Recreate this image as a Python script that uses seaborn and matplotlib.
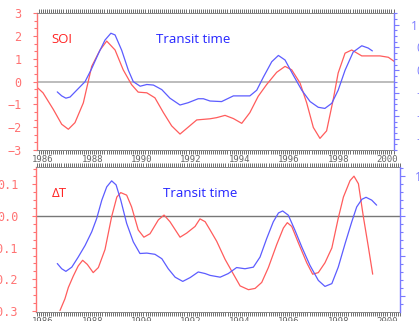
import numpy as np
import pandas as pd
import matplotlib
matplotlib.use("Agg")
import matplotlib.pyplot as plt
from matplotlib.ticker import FixedLocator, MultipleLocator, FuncFormatter
import seaborn as sns

# ---------------- data ----------------
soi_year = [1985.74, 1986.0, 1986.42, 1986.76, 1987.03, 1987.30, 1987.64, 1987.98, 1988.32, 1988.59,
            1988.93, 1989.26, 1989.6, 1989.87, 1990.22, 1990.55, 1990.89, 1991.23, 1991.57, 1991.9,
            1992.25, 1992.79, 1993.06, 1993.4, 1993.74, 1994.08, 1994.41, 1994.75, 1995.09, 1995.5,
            1995.84, 1996.11, 1996.45, 1996.72, 1996.99, 1997.26, 1997.53, 1997.8, 1998.0, 1998.28,
            1998.55, 1998.96, 1999.29, 1999.7, 2000.04, 2000.29]
soi_val = [-0.23, -0.49, -1.22, -1.87, -2.09, -1.8, -0.93, 0.67, 1.39, 1.78,
           1.39, 0.52, -0.13, -0.46, -0.49, -0.71, -1.35, -1.94, -2.3, -2.0,
           -1.68, -1.63, -1.58, -1.48, -1.62, -1.83, -1.36, -0.64, -0.13, 0.41,
           0.67, 0.52, -0.06, -0.93, -2.01, -2.49, -2.16, -0.78, 0.38, 1.25,
           1.39, 1.13, 1.13, 1.13, 1.07, 0.88]

tt1_year = [1986.58, 1986.76, 1986.93, 1987.1, 1987.37, 1987.71, 1987.98, 1988.25, 1988.52, 1988.76,
            1988.93, 1989.2, 1989.47, 1989.67, 1989.95, 1990.22, 1990.49, 1990.83, 1991.16, 1991.57,
            1991.9, 1992.31, 1992.52, 1992.79, 1993.26, 1993.74, 1994.08, 1994.41, 1994.69, 1994.96,
            1995.3, 1995.57, 1995.84, 1996.18, 1996.52, 1996.86, 1997.19, 1997.46, 1997.74, 1998.0,
            1998.28, 1998.61, 1998.96, 1999.22, 1999.39]
tt1_val = [-0.18, -0.25, -0.29, -0.27, -0.15, 0.0, 0.23, 0.49, 0.73, 0.85,
           0.82, 0.55, 0.2, 0.0, -0.08, -0.05, -0.06, -0.14, -0.29, -0.41,
           -0.37, -0.30, -0.30, -0.34, -0.35, -0.25, -0.25, -0.25, -0.15, 0.08,
           0.35, 0.46, 0.38, 0.11, -0.15, -0.35, -0.45, -0.47, -0.38, -0.15,
           0.2, 0.52, 0.63, 0.59, 0.54]

dt_year = [1986.69, 1986.89, 1987.03, 1987.23, 1987.43, 1987.61, 1987.8, 1988.04, 1988.25, 1988.52,
           1988.79, 1989.0, 1989.16, 1989.4, 1989.6, 1989.87, 1990.1, 1990.35, 1990.69, 1990.92,
           1991.16, 1991.57, 1991.84, 1992.18, 1992.38, 1992.59, 1992.79, 1993.06, 1993.4, 1993.74,
           1994.01, 1994.35, 1994.62, 1994.89, 1995.16, 1995.5, 1995.77, 1995.93, 1996.11, 1996.38,
           1996.72, 1996.96, 1997.19, 1997.46, 1997.74, 1998.0, 1998.21, 1998.48, 1998.64, 1998.82,
           1999.02, 1999.22, 1999.4]
dt_val = [-0.299, -0.262, -0.226, -0.19, -0.158, -0.14, -0.153, -0.179, -0.163, -0.106,
          -0.002, 0.06, 0.074, 0.066, 0.029, -0.044, -0.067, -0.056, -0.012, 0.003,
          -0.018, -0.067, -0.054, -0.033, -0.009, -0.018, -0.044, -0.08, -0.137, -0.184,
          -0.221, -0.233, -0.229, -0.21, -0.163, -0.09, -0.038, -0.021, -0.033, -0.085,
          -0.148, -0.184, -0.179, -0.148, -0.101, -0.007, 0.06, 0.112, 0.126, 0.102,
          -0.002, -0.096, -0.184]

tt2_year = [1986.58, 1986.76, 1986.93, 1987.17, 1987.43, 1987.71, 1987.98, 1988.18, 1988.39, 1988.59,
            1988.79, 1988.97, 1989.16, 1989.4, 1989.67, 1989.94, 1990.22, 1990.55, 1990.83, 1991.09,
            1991.37, 1991.68, 1991.98, 1992.31, 1992.59, 1992.79, 1993.2, 1993.53, 1993.87, 1994.21,
            1994.55, 1994.82, 1995.09, 1995.36, 1995.57, 1995.74, 1995.97, 1996.24, 1996.52, 1996.85,
            1997.19, 1997.46, 1997.74, 1998.0, 1998.28, 1998.55, 1998.75, 1998.96, 1999.13, 1999.36,
            1999.56]
tt2_val = [-1.18, -1.31, -1.375, -1.27, -1.02, -0.73, -0.39, -0.06, 0.4, 0.73,
           0.88, 0.78, 0.4, -0.18, -0.64, -0.93, -0.92, -0.95, -1.06, -1.31,
           -1.52, -1.625, -1.53, -1.39, -1.43, -1.475, -1.52, -1.43, -1.28, -1.31,
           -1.27, -1.02, -0.56, -0.14, 0.08, 0.13, 0.025, -0.35, -0.77, -1.225,
           -1.6, -1.75, -1.68, -1.27, -0.68, -0.14, 0.23, 0.42, 0.47, 0.4,
           0.275]

year_ticks = [1986, 1988, 1990, 1992, 1994, 1996, 1998, 2000]

# ---------------- style ----------------
sns.set_theme(style="white")
plt.rcParams['font.family'] = ['DejaVu Sans']

RED_AX = '#ff7373'
BLUE_AX = '#7a7aff'
RED_LN = '#ff5c5c'
BLUE_LN = '#5c5cff'
RED_TX = '#ff2424'
BLUE_TX = '#2424ff'
GRAY = '#555555'

W, H = 419, 321
fig = plt.figure(figsize=(W / 100, H / 100), dpi=100)


def px_axes(left, top, right, bottom):
    return fig.add_axes([left / W, 1 - bottom / H, (right - left) / W, (bottom - top) / H])


ax1 = px_axes(37, 13.3, 394, 150)
ax2 = px_axes(36, 167, 400, 311.5)

mono = 'DejaVu Sans Mono'


def style_x(ax, xlim):
    ax.set_xlim(*xlim)
    ax.xaxis.set_major_locator(FixedLocator(year_ticks))
    ax.xaxis.set_minor_locator(MultipleLocator(1 / 12))
    ax.tick_params(axis='x', which='both', top=True, bottom=True, direction='out',
                   length=2.8, width=0.6, color=GRAY, labelsize=6.5, labelcolor='#666666', pad=0.8)
    for lab in ax.get_xticklabels():
        lab.set_fontfamily(mono)
    for s in ['top', 'bottom']:
        ax.spines[s].set_color('#888888')
        ax.spines[s].set_linewidth(0.7)
    ax.set_xlabel('')


def style_left(ax, ylim, majors, minors, fmt, pad):
    ax.set_ylim(*ylim)
    ax.yaxis.set_major_locator(FixedLocator(majors))
    ax.yaxis.set_minor_locator(FixedLocator(minors))
    ax.yaxis.set_major_formatter(FuncFormatter(fmt))
    ax.tick_params(axis='y', which='major', left=True, direction='out', length=3.2, width=0.8,
                   color=RED_AX, labelsize=8.5, labelcolor=RED_AX, pad=pad)
    ax.tick_params(axis='y', which='minor', left=True, direction='out', length=2.2, width=0.8,
                   color=RED_AX)
    for lab in ax.get_yticklabels():
        lab.set_fontfamily(mono)
    ax.spines['left'].set_color(RED_AX)
    ax.spines['left'].set_linewidth(1.0)
    ax.spines['right'].set_visible(False)
    ax.set_ylabel('')


def right_fmt(top_value):
    # the top label sits a little further left than the others (cropped at the picture edge)
    def f(v, p):
        s = f"{v:g}".replace('-', '\u2212')
        return s if abs(v - top_value) < 1e-9 else "  " + s
    return FuncFormatter(f)


def style_right(tx, ylim, majors, minors, pad):
    tx.set_ylim(*ylim)
    tx.yaxis.set_major_locator(FixedLocator(majors))
    tx.yaxis.set_minor_locator(FixedLocator(minors))
    tx.yaxis.set_major_formatter(right_fmt(max(majors)))
    tx.tick_params(axis='y', which='major', right=True, direction='out', length=3.4, width=0.8,
                   color=BLUE_AX, labelsize=8.5, labelcolor=BLUE_AX, pad=pad)
    tx.tick_params(axis='y', which='minor', right=True, direction='out', length=2.4, width=0.8,
                   color=BLUE_AX)
    for lab in tx.get_yticklabels():
        lab.set_fontfamily('Open Sans')
    tx.spines['right'].set_color(BLUE_AX)
    tx.spines['right'].set_linewidth(1.0)
    for s in ['left', 'top', 'bottom']:
        tx.spines[s].set_visible(False)
    tx.set_ylabel('')


# ---------------- top panel: SOI ----------------
ax1.axhline(0, color='#aaaaaa', lw=1.1, zorder=1)
df_soi = pd.DataFrame({'year': soi_year, 'SOI': soi_val})
sns.lineplot(data=df_soi, x='year', y='SOI', ax=ax1, color=RED_LN, lw=0.9,
             estimator=None, sort=False)
style_x(ax1, (1985.756, 2000.27))
style_left(ax1, (-3, 3), list(range(-3, 4)), [i / 3 for i in range(-9, 10)],
           lambda v, p: f"{int(round(v))}".replace('-', '\u2212'), pad=8.0)

tx1 = ax1.twinx()
df_tt1 = pd.DataFrame({'year': tt1_year, 'tt': tt1_val})
sns.lineplot(data=df_tt1, x='year', y='tt', ax=tx1, color=BLUE_LN, lw=0.9,
             estimator=None, sort=False)
style_right(tx1, (-1.2, 1.2), [1.0, 0.6, 0.2, -0.2, -0.6, -1.0],
            [i / 10 for i in range(-12, 13)], pad=8.6)
tx1.set_xlim(1985.756, 2000.27)

ax1.text(0.039, 0.805, 'SOI', transform=ax1.transAxes, color=RED_TX, fontsize=9.5,
         family='Open Sans', ha='left', va='center')
ax1.text(0.333, 0.805, 'Transit time', transform=ax1.transAxes, color=BLUE_TX, fontsize=9.5,
         family='Open Sans', ha='left', va='center')

# ---------------- bottom panel: Delta T ----------------
ax2.axhline(0, color='#777777', lw=1.0, zorder=1)
df_dt = pd.DataFrame({'year': dt_year, 'dT': dt_val})
sns.lineplot(data=df_dt, x='year', y='dT', ax=ax2, color=RED_LN, lw=0.9,
             estimator=None, sort=False)
style_x(ax2, (1985.715, 2000.51))
style_left(ax2, (-0.302, 0.155), [-0.3, -0.2, -0.1, 0.0, 0.1],
           [i * 0.025 for i in range(-12, 7)],
           lambda v, p: f"{v:.1f}".replace('-', '\u2212') if abs(v) > 1e-9 else "0.0", pad=9.5)

tx2 = ax2.twinx()
df_tt2 = pd.DataFrame({'year': tt2_year, 'tt': tt2_val})
sns.lineplot(data=df_tt2, x='year', y='tt', ax=tx2, color=BLUE_LN, lw=0.9,
             estimator=None, sort=False)
style_right(tx2, (-2.375, 1.225), [1, 0, -1, -2],
            [i * 0.2 for i in range(-11, 7)], pad=7.0)
tx2.set_xlim(1985.715, 2000.51)

ax2.text(0.044, 0.82, '\u0394T', transform=ax2.transAxes, color=RED_TX, fontsize=9.5,
         family='Open Sans', ha='left', va='center')
ax2.text(0.349, 0.82, 'Transit time', transform=ax2.transAxes, color=BLUE_TX, fontsize=9.5,
         family='Open Sans', ha='left', va='center')

fig.savefig('out.png', dpi=100, facecolor='white')
